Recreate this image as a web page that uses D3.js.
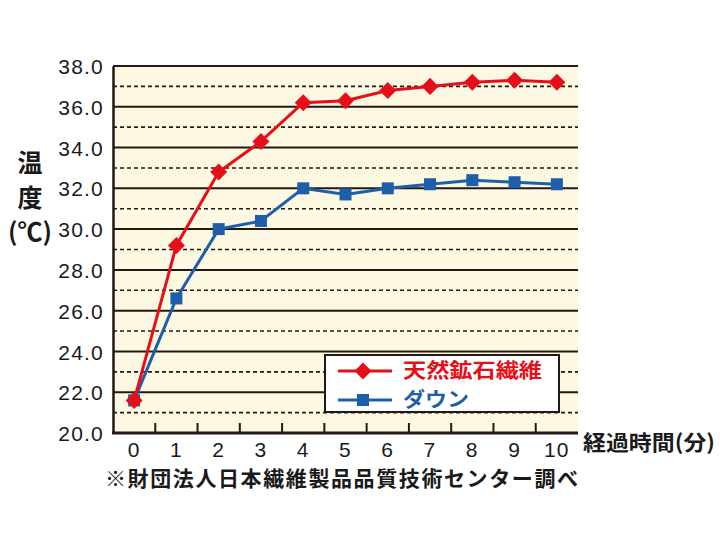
<!DOCTYPE html>
<html><head><meta charset="utf-8">
<script src="https://cdn.jsdelivr.net/npm/d3@7"></script>
<style>
html,body{margin:0;padding:0;background:#fff;}
svg{display:block;}
</style>
</head><body>
<div id="chart"></div>
<script>
const minutes = ["0","1","2","3","4","5","6","7","8","9","10"];
const mineralFiber = [21.6, 29.2, 32.8, 34.3, 36.2, 36.3, 36.8, 37.0, 37.2, 37.3, 37.2];
const down = [21.6, 26.6, 30.0, 30.4, 32.0, 31.7, 32.0, 32.2, 32.4, 32.3, 32.2];
const yTicks = [20, 22, 24, 26, 28, 30, 32, 34, 36, 38];
const yMinor = [21, 23, 25, 27, 29, 31, 33, 35, 37];
const seriesNames = ["天然鉱石繊維", "ダウン"];
const yTitle = ["温", "度", "(℃)"];
const xTitle = "経過時間(分)";
const note = "※財団法人日本繊維製品品質技術センター調べ";

const W = 720, H = 540;
const L = 113, R = 578, T = 66, B = 433;
const red = "#e60f19", blue = "#1f5ea8", ink = "#231815";
const cjk = "'Noto Sans CJK JP', 'Noto Sans', sans-serif";
const num = "'Liberation Sans', Arial, sans-serif";

const svg = d3.select("#chart").append("svg").attr("width", W).attr("height", H);

const x = d3.scaleBand().domain(minutes).range([L, R]).paddingInner(0).paddingOuter(0);
const y = d3.scaleLinear().domain([20, 38]).range([B, T]);
const cx = d => x(d) + x.bandwidth() / 2;

// plot background
svg.append("rect").attr("x", L).attr("y", T).attr("width", R - L).attr("height", B - T).attr("fill", "#fcf8e2");

// dashed minor grid
svg.append("g").selectAll("line").data(yMinor).join("line")
  .attr("x1", L).attr("x2", R).attr("y1", d => y(d)).attr("y2", d => y(d))
  .attr("stroke", ink).attr("stroke-width", 1.6).attr("stroke-dasharray", "4,3");

// solid major grid
svg.append("g").selectAll("line").data(yTicks.filter(d => d > 20)).join("line")
  .attr("x1", L).attr("x2", R).attr("y1", d => y(d)).attr("y2", d => y(d))
  .attr("stroke", ink).attr("stroke-width", 2);

// y axis
const yAxis = d3.axisLeft(y).tickValues(yTicks).tickSize(0).tickPadding(9).tickFormat(d3.format(".1f"));
const gy = svg.append("g").attr("transform", `translate(${L},0)`).call(yAxis);
gy.select(".domain").attr("stroke", ink).attr("stroke-width", 2.5);
gy.selectAll("text").attr("font-family", num).attr("font-size", 21).attr("fill", "#1a1a1a")
  .attr("letter-spacing", 1.2).attr("dy", "0.36em");

// x axis: ticks at band boundaries, pointing up
const gx = svg.append("g").attr("transform", `translate(0,${B})`);
gx.append("line").attr("x1", L - 1).attr("x2", R).attr("y1", 0).attr("y2", 0).attr("stroke", ink).attr("stroke-width", 3);
gx.selectAll("line.tk").data(minutes.slice(1)).join("line").attr("class", "tk")
  .attr("x1", d => x(d)).attr("x2", d => x(d)).attr("y1", 0).attr("y2", -10)
  .attr("stroke", ink).attr("stroke-width", 2);
gx.selectAll("text").data(minutes).join("text")
  .attr("x", d => cx(d)).attr("y", 24).attr("text-anchor", "middle")
  .attr("font-family", num).attr("font-size", 21).attr("fill", "#1a1a1a").attr("letter-spacing", 1.2)
  .text(d => d);

// lines
const line = d3.line().x((d, i) => cx(minutes[i])).y(d => y(d));
svg.append("path").datum(down).attr("d", line).attr("fill", "none").attr("stroke", blue).attr("stroke-width", 3);
svg.append("g").selectAll("rect").data(down).join("rect")
  .attr("x", (d, i) => cx(minutes[i]) - 6).attr("y", d => y(d) - 6)
  .attr("width", 12).attr("height", 12).attr("fill", blue);
svg.append("path").datum(mineralFiber).attr("d", line).attr("fill", "none").attr("stroke", red).attr("stroke-width", 3);
const diamond = d3.symbol().type(d3.symbolSquare).size(145);
svg.append("g").selectAll("path").data(mineralFiber).join("path")
  .attr("d", diamond())
  .attr("transform", (d, i) => `translate(${cx(minutes[i])},${y(d)}) rotate(45)`)
  .attr("fill", red);

// legend
const lg = svg.append("g");
lg.append("rect").attr("x", 325).attr("y", 355).attr("width", 234).attr("height", 57)
  .attr("fill", "#fff").attr("stroke", ink).attr("stroke-width", 2);
const legendItems = [{name: seriesNames[0], color: red, shape: "d", yy: 371, len: 139},
                     {name: seriesNames[1], color: blue, shape: "s", yy: 400, len: 66}];
legendItems.forEach(it => {
  lg.append("line").attr("x1", 338).attr("x2", 392).attr("y1", it.yy).attr("y2", it.yy)
    .attr("stroke", it.color).attr("stroke-width", 3);
  if (it.shape === "d") {
    lg.append("path").attr("d", diamond()).attr("transform", `translate(363,${it.yy}) rotate(45)`).attr("fill", it.color);
  } else {
    lg.append("rect").attr("x", 357).attr("y", it.yy - 6).attr("width", 12).attr("height", 12).attr("fill", it.color);
  }
  lg.append("text").attr("x", 403).attr("y", it.yy).attr("dy", "0.36em")
    .attr("font-family", cjk).attr("font-weight", "bold").attr("font-size", 20)
    .attr("textLength", it.len).attr("lengthAdjust", "spacingAndGlyphs")
    .attr("fill", it.color).text(it.name);
});

// y title
const yt = svg.append("g").attr("font-family", cjk).attr("font-weight", "bold").attr("font-size", 25).attr("fill", "#1a1a1a").attr("text-anchor", "middle");
yt.append("text").attr("x", 30).attr("y", 163).attr("dy", "0.36em").text(yTitle[0]);
yt.append("text").attr("x", 30).attr("y", 198).attr("dy", "0.36em").text(yTitle[1]);
yt.append("text").attr("x", 30).attr("y", 232).attr("dy", "0.36em").text(yTitle[2]);

// x title
svg.append("text").attr("x", 583).attr("y", 442).attr("dy", "0.36em")
  .attr("font-family", cjk).attr("font-weight", "bold").attr("font-size", 21).attr("fill", "#1a1a1a")
  .attr("textLength", 132).attr("lengthAdjust", "spacingAndGlyphs").text(xTitle);

// footnote
svg.append("text").attr("x", 105).attr("y", 478).attr("dy", "0.36em")
  .attr("font-family", cjk).attr("font-weight", "bold").attr("font-size", 21).attr("fill", "#1a1a1a")
  .attr("textLength", 473).attr("lengthAdjust", "spacing").text(note);
</script>
</body></html>
